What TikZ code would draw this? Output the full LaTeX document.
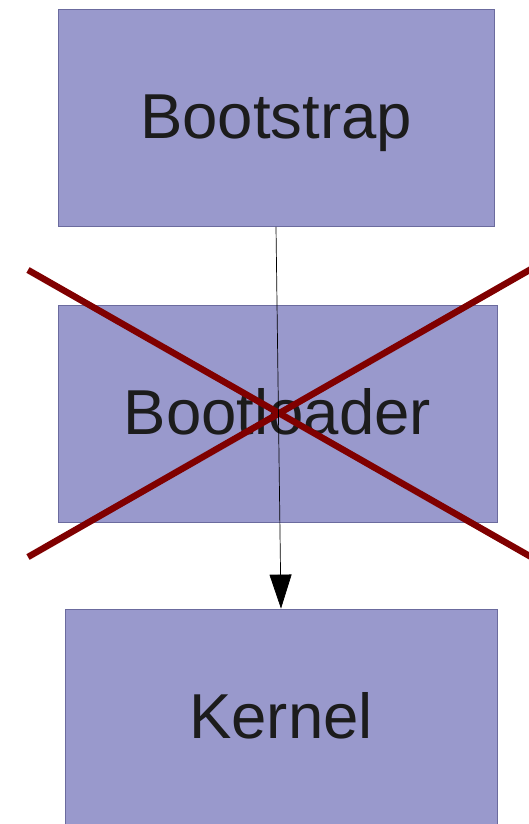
\documentclass[tikz,border=0pt]{standalone}
\usepackage{fontspec}
\setmainfont{Liberation Sans}
\usetikzlibrary{arrows.meta}
\definecolor{boxfill}{HTML}{9999CC}
\definecolor{boxline}{HTML}{6B6B9E}
\definecolor{txt}{HTML}{1C1C1C}
\definecolor{xred}{HTML}{800000}
\tikzset{
  stage/.style={draw=boxline, fill=boxfill, line width=0.8pt, inner sep=0pt, minimum height=217pt},
  lbl/.style={text=txt, font=\fontsize{63.5}{70}\selectfont, inner sep=0pt, anchor=base},
  cross/.style={draw=xred, line width=6.5pt},
  flow/.style={draw=black, line width=0.7pt, -{Triangle[length=34pt,width=22pt]}}
}
\begin{document}
\begin{tikzpicture}[x=1pt,y=-1pt]
\useasboundingbox (0,0) rectangle (529,824);
\clip (0,0) rectangle (529,824);
\node[stage, minimum width=436pt] (bootstrap) at (276,118) {};
\node[stage, minimum width=439pt] (bootloader) at (277.5,413.5) {};
\node[stage, minimum width=432pt] (kernel) at (281,717.5) {};
\node[lbl] (tbootstrap) at (276,139) {Bootstrap};
\node[lbl] (tbootloader) at (277.5,434) {Bootloader};
\node[lbl] (tkernel) at (281,738) {Kernel};
\coordinate (xa) at (28,270);
\coordinate (xb) at (540,562);
\coordinate (xc) at (28,557);
\coordinate (xd) at (540,264);
\draw[cross] (xa) -- (xb);
\draw[cross] (xc) -- (xd);
\draw[flow] (bootstrap.south) -- (kernel.north);
\end{tikzpicture}
\end{document}
